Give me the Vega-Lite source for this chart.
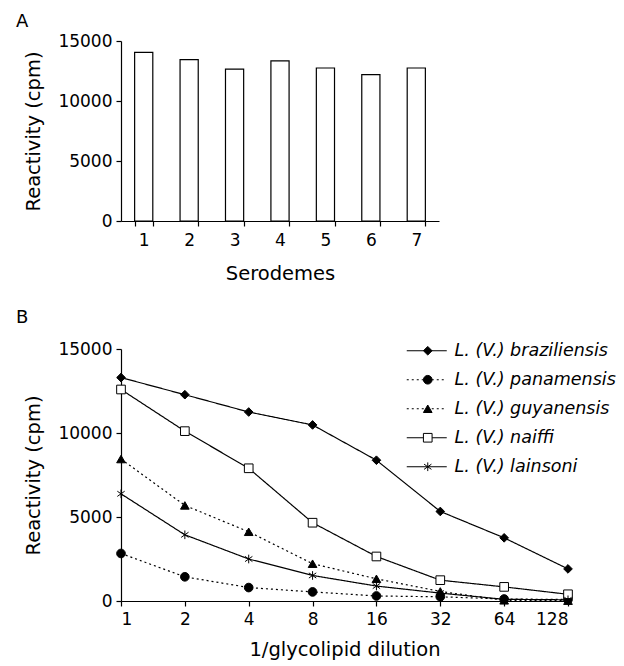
{
  "$schema": "https://vega.github.io/schema/vega-lite/v6.json",
  "background": "white",
  "padding": {"left": 15, "top": 13, "right": 5, "bottom": 5},
  "spacing": 26,
  "config": {
    "view": {"stroke": null},
    "font": "DejaVu Sans",
    "axis": {
      "domainColor": "black", "tickColor": "black", "labelColor": "black", "titleColor": "black",
      "labelFont": "DejaVu Sans", "labelFontSize": 17, "titleFont": "DejaVu Sans", "titleFontSize": 19.5,
      "titleFontWeight": "normal", "grid": false, "tickSize": 5, "labelPadding": 4,
      "domainWidth": 1.2, "tickWidth": 1.2
    },
    "title": {"font": "DejaVu Sans", "fontSize": 18, "fontWeight": "normal", "anchor": "start", "color": "black"}
  },
  "resolve": {"scale": {"shape": "independent", "fill": "independent", "stroke": "independent", "strokeDash": "independent"}},
  "vconcat": [
    {
      "title": {"text": "A", "dx": -8, "offset": 1},
      "width": 318,
      "height": 180,
      "data": {"values": [
        {"serodeme": "1", "reactivity": 14050},
        {"serodeme": "2", "reactivity": 13450},
        {"serodeme": "3", "reactivity": 12650},
        {"serodeme": "4", "reactivity": 13350},
        {"serodeme": "5", "reactivity": 12750},
        {"serodeme": "6", "reactivity": 12200},
        {"serodeme": "7", "reactivity": 12750}
      ]},
      "mark": {"type": "bar", "fill": "white", "stroke": "black", "strokeWidth": 1.2},
      "encoding": {
        "x": {"field": "serodeme", "type": "ordinal", "title": "Serodemes",
              "scale": {"paddingInner": 0.6, "paddingOuter": 0.3},
              "axis": {"labelAngle": 0, "tickBand": "extent", "labelPadding": 6, "titlePadding": 16}},
        "y": {"field": "reactivity", "type": "quantitative", "title": "Reactivity (cpm)",
              "scale": {"domain": [0, 15000]},
              "axis": {"values": [0, 5000, 10000, 15000], "format": "d", "titlePadding": 14}}
      }
    },
    {
      "title": {"text": "B", "dx": -8, "offset": 13},
      "width": 447,
      "height": 252,
      "data": {"values": [
        {"species": "L. (V.) braziliensis", "dilution": 1, "reactivity": 13300},
        {"species": "L. (V.) braziliensis", "dilution": 2, "reactivity": 12280},
        {"species": "L. (V.) braziliensis", "dilution": 4, "reactivity": 11250},
        {"species": "L. (V.) braziliensis", "dilution": 8, "reactivity": 10480},
        {"species": "L. (V.) braziliensis", "dilution": 16, "reactivity": 8380},
        {"species": "L. (V.) braziliensis", "dilution": 32, "reactivity": 5330},
        {"species": "L. (V.) braziliensis", "dilution": 64, "reactivity": 3760},
        {"species": "L. (V.) braziliensis", "dilution": 128, "reactivity": 1910},
        {"species": "L. (V.) panamensis", "dilution": 1, "reactivity": 2830},
        {"species": "L. (V.) panamensis", "dilution": 2, "reactivity": 1440},
        {"species": "L. (V.) panamensis", "dilution": 4, "reactivity": 800},
        {"species": "L. (V.) panamensis", "dilution": 8, "reactivity": 540},
        {"species": "L. (V.) panamensis", "dilution": 16, "reactivity": 300},
        {"species": "L. (V.) panamensis", "dilution": 32, "reactivity": 250},
        {"species": "L. (V.) panamensis", "dilution": 64, "reactivity": 120},
        {"species": "L. (V.) panamensis", "dilution": 128, "reactivity": 90},
        {"species": "L. (V.) guyanensis", "dilution": 1, "reactivity": 8450},
        {"species": "L. (V.) guyanensis", "dilution": 2, "reactivity": 5690},
        {"species": "L. (V.) guyanensis", "dilution": 4, "reactivity": 4120},
        {"species": "L. (V.) guyanensis", "dilution": 8, "reactivity": 2220},
        {"species": "L. (V.) guyanensis", "dilution": 16, "reactivity": 1320},
        {"species": "L. (V.) guyanensis", "dilution": 32, "reactivity": 570},
        {"species": "L. (V.) guyanensis", "dilution": 64, "reactivity": 40},
        {"species": "L. (V.) guyanensis", "dilution": 128, "reactivity": 20},
        {"species": "L. (V.) naiffi", "dilution": 1, "reactivity": 12590},
        {"species": "L. (V.) naiffi", "dilution": 2, "reactivity": 10110},
        {"species": "L. (V.) naiffi", "dilution": 4, "reactivity": 7900},
        {"species": "L. (V.) naiffi", "dilution": 8, "reactivity": 4660},
        {"species": "L. (V.) naiffi", "dilution": 16, "reactivity": 2650},
        {"species": "L. (V.) naiffi", "dilution": 32, "reactivity": 1240},
        {"species": "L. (V.) naiffi", "dilution": 64, "reactivity": 840},
        {"species": "L. (V.) naiffi", "dilution": 128, "reactivity": 400},
        {"species": "L. (V.) lainsoni", "dilution": 1, "reactivity": 6380},
        {"species": "L. (V.) lainsoni", "dilution": 2, "reactivity": 3940},
        {"species": "L. (V.) lainsoni", "dilution": 4, "reactivity": 2500},
        {"species": "L. (V.) lainsoni", "dilution": 8, "reactivity": 1520},
        {"species": "L. (V.) lainsoni", "dilution": 16, "reactivity": 890},
        {"species": "L. (V.) lainsoni", "dilution": 32, "reactivity": 470},
        {"species": "L. (V.) lainsoni", "dilution": 64, "reactivity": 100},
        {"species": "L. (V.) lainsoni", "dilution": 128, "reactivity": 70}
      ]},
      "encoding": {
        "x": {"field": "dilution", "type": "quantitative", "title": "1/glycolipid dilution",
              "scale": {"type": "log", "base": 2, "domain": [1, 128], "nice": false},
              "axis": {"values": [1, 2, 4, 8, 16, 32, 64, 128], "format": "d", "labelPadding": 5, "titlePadding": 13}},
        "y": {"field": "reactivity", "type": "quantitative", "title": "Reactivity (cpm)",
              "scale": {"domain": [0, 15000]},
              "axis": {"values": [0, 5000, 10000, 15000], "format": "d", "titlePadding": 14}}
      },
      "layer": [
        {
          "mark": {"type": "line", "color": "black", "strokeWidth": 1.2},
          "encoding": {
            "strokeDash": {"field": "species", "type": "nominal",
              "scale": {"domain": ["L. (V.) braziliensis", "L. (V.) panamensis", "L. (V.) guyanensis", "L. (V.) naiffi", "L. (V.) lainsoni"],
                        "range": [[1, 0], [2, 3], [2, 3], [1, 0], [1, 0]]},
              "legend": {"orient": "none", "legendX": 297, "legendY": -7, "title": null, "padding": 0,
                         "symbolType": "M-4,0L4,0", "symbolSize": 100, "symbolStrokeColor": "black", "symbolStrokeWidth": 1.2,
                         "labelOpacity": 0, "labelFont": "DejaVu Sans", "labelFontStyle": "italic", "labelFontSize": 17.5,
                         "labelOffset": 19, "labelLimit": 400, "rowPadding": 10}}
          }
        },
        {
          "mark": {"type": "point", "filled": true, "strokeWidth": 1, "size": 75, "opacity": 1},
          "encoding": {
            "shape": {"field": "species", "type": "nominal",
              "scale": {"domain": ["L. (V.) braziliensis", "L. (V.) panamensis", "L. (V.) guyanensis", "L. (V.) naiffi", "L. (V.) lainsoni"],
                        "range": ["diamond", "circle", "triangle-up", "square", "M0,-1L0,1M-0.85,-0.6L0.85,0.6M-0.85,0.6L0.85,-0.6"]},
              "legend": {"orient": "none", "legendX": 298, "legendY": -7, "title": null, "padding": 0,
                         "symbolSize": 75, "symbolStrokeWidth": 1,
                         "labelFont": "DejaVu Sans", "labelFontStyle": "italic", "labelFontSize": 17.5, "labelColor": "black",
                         "labelOffset": 18, "labelLimit": 400, "rowPadding": 10}},
            "fill": {"field": "species", "type": "nominal",
              "scale": {"domain": ["L. (V.) braziliensis", "L. (V.) panamensis", "L. (V.) guyanensis", "L. (V.) naiffi", "L. (V.) lainsoni"],
                        "range": ["black", "black", "black", "white", "black"]},
              "legend": {"orient": "none", "legendX": 298, "legendY": -7, "title": null, "padding": 0,
                         "symbolSize": 75, "symbolStrokeWidth": 1,
                         "labelFont": "DejaVu Sans", "labelFontStyle": "italic", "labelFontSize": 17.5, "labelColor": "black",
                         "labelOffset": 18, "labelLimit": 400, "rowPadding": 10}},
            "stroke": {"field": "species", "type": "nominal",
              "scale": {"domain": ["L. (V.) braziliensis", "L. (V.) panamensis", "L. (V.) guyanensis", "L. (V.) naiffi", "L. (V.) lainsoni"],
                        "range": ["black", "black", "black", "black", "black"]},
              "legend": {"orient": "none", "legendX": 298, "legendY": -7, "title": null, "padding": 0,
                         "symbolSize": 75, "symbolStrokeWidth": 1,
                         "labelFont": "DejaVu Sans", "labelFontStyle": "italic", "labelFontSize": 17.5, "labelColor": "black",
                         "labelOffset": 18, "labelLimit": 400, "rowPadding": 10}}
          }
        }
      ],
      "resolve": {"scale": {"strokeDash": "independent", "shape": "independent", "fill": "independent", "stroke": "independent"}}
    }
  ]
}
